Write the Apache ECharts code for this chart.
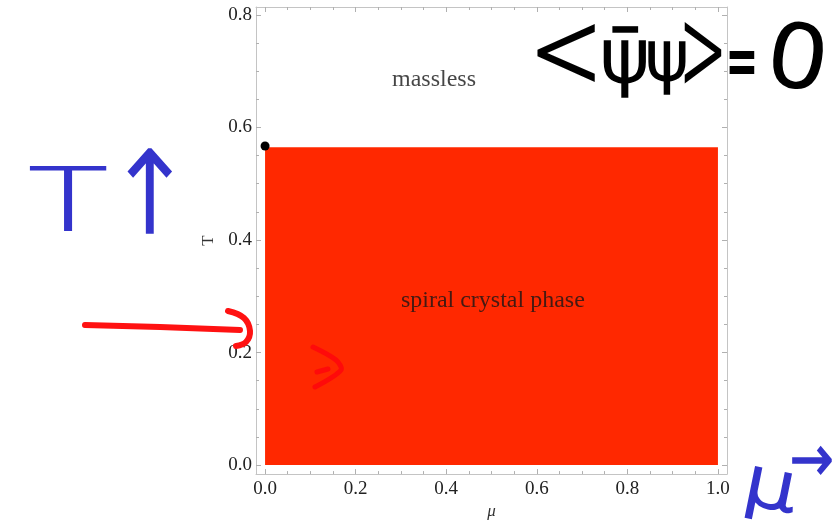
<!DOCTYPE html>
<html>
<head>
<meta charset="utf-8">
<script src="https://cdn.jsdelivr.net/npm/echarts@6/dist/echarts.min.js"></script>
<style>
html,body{margin:0;padding:0;background:#fff;}
#chart{width:834px;height:525px;}
</style>
</head>
<body>
<div id="chart"></div>
<script>
// ---- data ----
const muTicks = [0, 0.2, 0.4, 0.6, 0.8, 1.0];
const muMinorTicks = [0.05,0.1,0.15,0.25,0.3,0.35,0.45,0.5,0.55,0.65,0.7,0.75,0.85,0.9,0.95];
const tTicks = [0, 0.2, 0.4, 0.6, 0.8];
const tMinorTicks = [0.05,0.1,0.15,0.25,0.3,0.35,0.45,0.5,0.55,0.65,0.7,0.75];
// phase region: [muStart, muEnd, Tbottom, Ttop]
const phaseMuStart = [0];
const phaseMuEnd = [1.0];
const phaseTBottom = [0];
const phaseTTop = [0.565];
// critical point
const pointMu = [0];
const pointT = [0.567];
// region labels
const regionNames = ['massless', 'spiral crystal phase'];
const regionMu = [0.373, 0.503];
const regionT = [0.684, 0.292];

const frameColor = '#c4c4c4';
const tickColor = '#b0b0b0';
const serif = '"Liberation Serif", "DejaVu Serif", serif';

function xAxisDef(pos, ticks, len, withLabels, withLine) {
  return {
    type: 'value', position: pos, min: -0.02, max: 1.02,
    axisLine: {show: withLine, onZero: false, lineStyle: {color: frameColor, width: 1}},
    axisTick: {show: true, inside: true, length: len, customValues: ticks, lineStyle: {color: tickColor}},
    axisLabel: withLabels ? {show: true, customValues: ticks, margin: 5, color: '#222',
      fontFamily: serif, fontSize: 19, formatter: v => v.toFixed(1)} : {show: false},
    splitLine: {show: false}
  };
}
function yAxisDef(pos, ticks, len, withLabels, withLine) {
  return {
    type: 'value', position: pos, min: -0.016, max: 0.814,
    axisLine: {show: withLine, onZero: false, lineStyle: {color: frameColor, width: 1}},
    axisTick: {show: true, inside: true, length: len, customValues: ticks, lineStyle: {color: tickColor}},
    axisLabel: withLabels ? {show: true, customValues: ticks, margin: 4, color: '#222',
      fontFamily: serif, fontSize: 19, formatter: v => v.toFixed(1)} : {show: false},
    splitLine: {show: false}
  };
}

const xAxes = [
  xAxisDef('bottom', muTicks, 5, true, true),
  xAxisDef('top', muTicks, 5, false, true),
  xAxisDef('bottom', muMinorTicks, 3, false, false),
  xAxisDef('top', muMinorTicks, 3, false, false)
];
Object.assign(xAxes[0], {name: 'μ', nameLocation: 'middle', nameGap: 27,
  nameTextStyle: {fontFamily: serif, fontStyle: 'italic', fontSize: 17, color: '#333'}});
const yAxes = [
  yAxisDef('left', tTicks, 5, true, true),
  yAxisDef('right', tTicks, 5, false, true),
  yAxisDef('left', tMinorTicks, 3, false, false),
  yAxisDef('right', tMinorTicks, 3, false, false)
];
Object.assign(yAxes[0], {name: 'T', nameLocation: 'middle', nameGap: 29, nameRotate: 90,
  nameTextStyle: {fontFamily: serif, fontSize: 17, color: '#333'}});

const phaseData = phaseMuStart.map((m, i) => [m, phaseMuEnd[i], phaseTBottom[i], phaseTTop[i]]);

const inkBlack = '#000000';
const inkBlue = '#3434cc';
const inkRed = '#ff1212';
const hand = '"DejaVu Sans ExtraLight", "DejaVu Sans", sans-serif';
function glyph(text, x, y, size, color, sx, sy, lw, rot) {
  return {
    type: 'text', x: x, y: y, scaleX: sx || 1, scaleY: sy || 1, rotation: rot || 0, z: 100,
    style: {
      text: text, fontFamily: hand, fontWeight: 200, fontSize: size,
      fill: color, stroke: color, lineWidth: lw == null ? 3 : lw, lineJoin: 'round',
      align: 'center', verticalAlign: 'middle'
    }
  };
}

const option = {
  animation: false,
  backgroundColor: '#ffffff',
  grid: {left: 256, top: 7, width: 471, height: 472, containLabel: false},
  xAxis: xAxes,
  yAxis: yAxes,
  series: [
    {
      type: 'custom', xAxisIndex: 0, yAxisIndex: 0,
      data: phaseData,
      renderItem: function (params, api) {
        const p0 = api.coord([api.value(0), api.value(3)]);
        const p1 = api.coord([api.value(1), api.value(2)]);
        return {type: 'rect', shape: {x: p0[0], y: p0[1], width: p1[0] - p0[0], height: p1[1] - p0[1]},
          style: {fill: '#ff2800'}};
      },
      z: 2
    },
    {
      type: 'scatter', xAxisIndex: 0, yAxisIndex: 0,
      data: pointMu.map((m, i) => [m, pointT[i]]),
      symbolSize: 9, itemStyle: {color: '#000', opacity: 1}, z: 5
    },
    {
      type: 'scatter', xAxisIndex: 0, yAxisIndex: 0,
      data: regionNames.map((n, i) => ({name: n, value: [regionMu[i], regionT[i]]})),
      symbolSize: 0,
      label: {show: true, position: 'inside', formatter: p => p.name, fontFamily: serif,
        fontSize: 24, color: '#161616'},
      z: 6
    }
  ],
  graphic: [
    // handwritten <ψ̄ψ>=0
    glyph('<', 566, 59, 80, inkBlack, 1.1, 1.35, 2),
    glyph('ψ̄', 625, 62, 72, inkBlack, 1.05, 1, 3.5),
    glyph('ψ', 667, 62, 66, inkBlack, 1, 1, 3.5),
    glyph('>', 703, 59, 80, inkBlack, 0.7, 1.45, 2),
    glyph('=', 742, 68, 46, inkBlack, 0.8, 2.1, 2),
    glyph('0', 797, 64, 84, inkBlack, 1.15, 1, 4, -0.15),
    // handwritten T↑
    glyph('T', 68, 207, 88, inkBlue, 1.5, 1, 1),
    glyph('↑', 150, 203, 100, inkBlue, 1, 1.12, 3),
    // handwritten μ→
    glyph('μ', 770, 490, 66, inkBlue, 1.25, 1, 3, -0.2),
    glyph('→', 812, 463, 50, inkBlue, 1, 1.2, 3),
    // red arrow
    {type: 'polyline', z: 100, shape: {points: [[85, 325], [160, 327], [240, 330]]},
      style: {stroke: inkRed, lineWidth: 6, lineCap: 'round', fill: null}},
    {type: 'polyline', z: 100, shape: {points: [[228, 311], [244, 318], [250, 331], [246, 342], [236, 346]], smooth: 0.4},
      style: {stroke: inkRed, lineWidth: 6, lineCap: 'round', lineJoin: 'round', fill: null}},
    // small red mark inside
    {type: 'polyline', z: 100, shape: {points: [[313, 347], [336, 360], [341, 370], [315, 387]], smooth: 0.3},
      style: {stroke: '#ff0a0a', lineWidth: 5, lineCap: 'round', lineJoin: 'round', fill: null}},
    {type: 'polyline', z: 100, shape: {points: [[317, 372], [328, 369]]},
      style: {stroke: '#ff0a0a', lineWidth: 5, lineCap: 'round', fill: null}}
  ]
};

const chart = echarts.init(document.getElementById('chart'), null, {renderer: 'canvas'});
chart.setOption(option);
</script>
</body>
</html>
